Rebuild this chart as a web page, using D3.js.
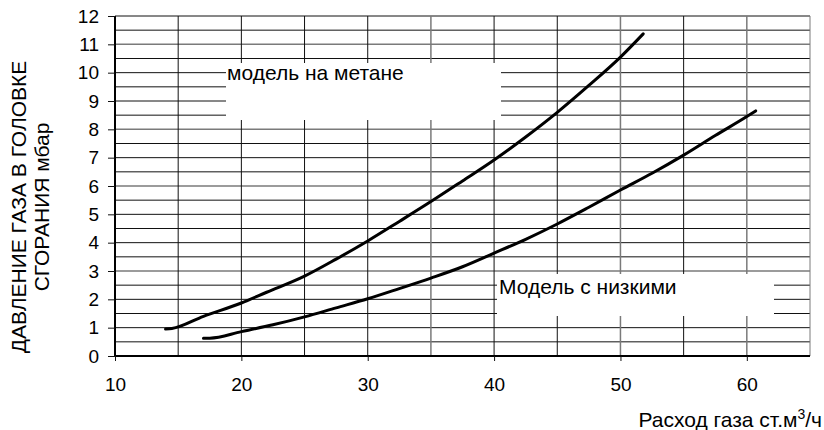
<!DOCTYPE html>
<html>
<head>
<meta charset="utf-8">
<script src="https://cdn.jsdelivr.net/npm/d3@7"></script>
<style>
  body { margin: 0; background: #fff; }
  svg { display: block; font-family: "Liberation Sans", Arial, sans-serif; }
</style>
</head>
<body>
<svg id="chart" width="824" height="430"></svg>
<script>
// data
const flowMethane  = [14, 14.5, 17, 20, 22, 25, 27.5, 30, 32.5, 35, 37.5, 40, 42.5, 45, 47.5, 50, 51.8];
const pressMethane = [0.95, 0.97, 1.4, 1.87, 2.25, 2.82, 3.42, 4.06, 4.75, 5.45, 6.18, 6.92, 7.73, 8.6, 9.55, 10.55, 11.37];
const flowLow  = [17, 17.5, 20, 22.5, 25, 27.5, 30, 32.5, 35, 37.5, 40, 42.5, 45, 47.5, 50, 52.5, 55, 57.5, 60, 60.7];
const pressLow = [0.63, 0.63, 0.86, 1.1, 1.38, 1.7, 2.02, 2.38, 2.75, 3.15, 3.63, 4.12, 4.66, 5.25, 5.86, 6.45, 7.09, 7.78, 8.45, 8.65];
const xTicks = [10, 20, 30, 40, 50, 60];
const yTicks = d3.range(0, 13);
const yTitle = ["ДАВЛЕНИЕ ГАЗА В ГОЛОВКЕ", "СГОРАНИЯ мбар"];
const xTitle = "Расход газа ст.м";
const labelMethane = "модель на метане";
const labelLow = "Модель с низкими";

const svg = d3.select("#chart");
const x = d3.scaleLinear([10, 65], [115, 810]);
const y = d3.scaleLinear([0, 12], [356, 16]);

const grayY = [11, 8, 6, 3];
const grayX = [35, 50, 60];

// horizontal grid every 0.5
svg.append("g").selectAll("line")
  .data(d3.range(0.5, 12.01, 0.5))
  .join("line")
  .attr("x1", x(10)).attr("x2", x(65))
  .attr("y1", d => y(d)).attr("y2", d => y(d))
  .attr("stroke", d => grayY.includes(d) ? "#7a7a7a" : "#111")
  .attr("stroke-width", d => grayY.includes(d) ? 1.5 : 1);

// vertical grid every 5
svg.append("g").selectAll("line")
  .data(d3.range(15, 65.01, 5))
  .join("line")
  .attr("x1", d => x(d)).attr("x2", d => x(d))
  .attr("y1", y(0)).attr("y2", y(12))
  .attr("stroke", d => (grayX.includes(d) || d === 65) ? "#7a7a7a" : "#111")
  .attr("stroke-width", d => grayX.includes(d) ? 1.5 : 1);

// white label boxes that cut the grid
svg.append("rect").attr("x", 226).attr("y", 63).attr("width", 275).attr("height", 57).attr("fill", "#fff");
svg.append("rect").attr("x", 497).attr("y", 274).attr("width", 277).attr("height", 42).attr("fill", "#fff");

// axes
svg.append("line").attr("x1", x(10)).attr("x2", x(10)).attr("y1", y(0) + 1).attr("y2", y(12))
  .attr("stroke", "#000").attr("stroke-width", 2);
svg.append("line").attr("x1", x(10) - 1).attr("x2", x(65)).attr("y1", y(0)).attr("y2", y(0))
  .attr("stroke", "#000").attr("stroke-width", 2);

const yAxis = svg.append("g")
  .attr("transform", `translate(${x(10)},0)`)
  .call(d3.axisLeft(y).tickValues(yTicks).tickSize(7).tickPadding(9));
const xAxis = svg.append("g")
  .attr("transform", `translate(0,${y(0)})`)
  .call(d3.axisBottom(x).tickValues(xTicks).tickSize(5).tickPadding(17));
[yAxis, xAxis].forEach(a => {
  a.select(".domain").remove();
  a.selectAll("line").attr("stroke", "#111");
  a.selectAll("text").attr("font-size", 19).attr("fill", "#000")
    .attr("font-family", "Liberation Sans, Arial, sans-serif");
});

// curves
const line = d3.line().curve(d3.curveMonotoneX).x(d => x(d[0])).y(d => y(d[1]));
[[flowMethane, pressMethane], [flowLow, pressLow]].forEach(([fx, py]) => {
  svg.append("path")
    .datum(fx.map((v, i) => [v, py[i]]))
    .attr("d", line)
    .attr("fill", "none")
    .attr("stroke", "#000")
    .attr("stroke-width", 3)
    .attr("stroke-linecap", "round");
});

// labels
svg.append("text").attr("x", 227).attr("y", 80).attr("font-size", 21).text(labelMethane);
svg.append("text").attr("x", 499).attr("y", 294).attr("font-size", 21).text(labelLow);

// y title
const yt = svg.append("text")
  .attr("transform", "translate(26,207) rotate(-90)")
  .attr("text-anchor", "middle")
  .attr("font-size", 21);
yt.selectAll("tspan").data(yTitle).join("tspan")
  .attr("x", 0).attr("dy", (d, i) => i === 0 ? 0 : 23)
  .text(d => d);

// x title
const xt = svg.append("text").attr("x", 822).attr("y", 427)
  .attr("text-anchor", "end").attr("font-size", 21);
xt.append("tspan").text(xTitle);
xt.append("tspan").attr("dy", -8).attr("font-size", 14).text("3");
xt.append("tspan").attr("dy", 8).text("/ч");
</script>
</body>
</html>
